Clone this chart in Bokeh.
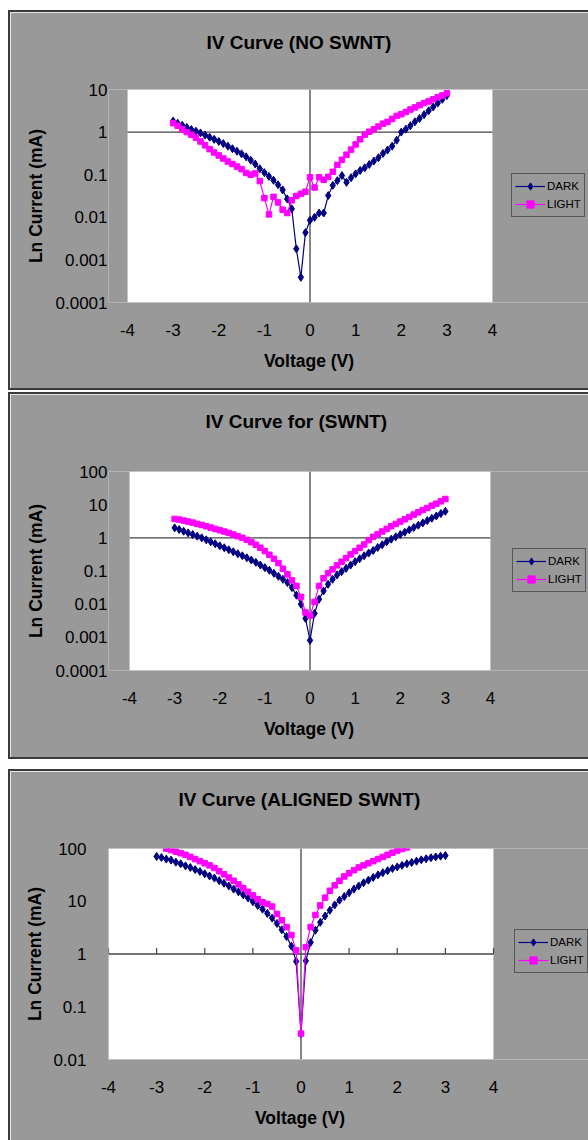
import math
from bokeh.plotting import figure
from bokeh.layouts import column
from bokeh.models import Span, FixedTicker, Title, Legend, LegendItem, BoxAnnotation
from bokeh.embed import file_html
from bokeh.resources import INLINE

FONT = "Liberation Sans"
PANEL_BG = "#999999"
EDGE = "#3a3a3a"
DARK_COLOR = "#000080"
LIGHT_COLOR = "#ff00ff"

# ---------------- data ----------------
voltage = [-3.0, -2.9, -2.8, -2.7, -2.6, -2.5, -2.4, -2.3, -2.2, -2.1,
           -2.0, -1.9, -1.8, -1.7, -1.6, -1.5, -1.4, -1.3, -1.2, -1.1,
           -1.0, -0.9, -0.8, -0.7, -0.6, -0.5, -0.4, -0.3, -0.2, -0.1,
           0.0, 0.1, 0.2, 0.3, 0.4, 0.5, 0.6, 0.7, 0.8, 0.9,
           1.0, 1.1, 1.2, 1.3, 1.4, 1.5, 1.6, 1.7, 1.8, 1.9,
           2.0, 2.1, 2.2, 2.3, 2.4, 2.5, 2.6, 2.7, 2.8, 2.9, 3.0]

voltage_aligned_light = [-2.8, -2.7, -2.6, -2.5, -2.4, -2.3, -2.2, -2.1,
                         -2.0, -1.9, -1.8, -1.7, -1.6, -1.5, -1.4, -1.3, -1.2, -1.1,
                         -1.0, -0.9, -0.8, -0.7, -0.6, -0.5, -0.4, -0.3, -0.2, -0.1,
                         0.0, 0.1, 0.2, 0.3, 0.4, 0.5, 0.6, 0.7, 0.8, 0.9,
                         1.0, 1.1, 1.2, 1.3, 1.4, 1.5, 1.6, 1.7, 1.8, 1.9,
                         2.0, 2.1, 2.2]

no_swnt_dark = [1.82, 1.62, 1.45, 1.29, 1.15, 1.05, 0.955, 0.851, 0.759, 0.676,
                0.603, 0.537, 0.468, 0.407, 0.355, 0.309, 0.263, 0.219, 0.178, 0.138,
                0.112, 0.0912, 0.0741, 0.058, 0.044, 0.027, 0.0158, 0.00182, 0.00039, 0.00437,
                0.0085, 0.0100, 0.0126, 0.0126, 0.0324, 0.0562, 0.0724, 0.0955, 0.0661, 0.0851,
                0.105, 0.126, 0.145, 0.174, 0.209, 0.251, 0.316, 0.380, 0.468, 0.646,
                1.00, 1.17, 1.41, 1.74, 2.09, 2.57, 3.16, 3.89, 4.79, 5.89, 7.24]

no_swnt_light = [1.62, 1.41, 1.17, 1.00, 0.871, 0.741, 0.603, 0.490, 0.398, 0.331,
                 0.282, 0.240, 0.204, 0.178, 0.155, 0.135, 0.110, 0.100, 0.107, 0.0708,
                 0.0282, 0.0117, 0.0302, 0.0224, 0.0151, 0.0126, 0.0251, 0.0316, 0.0355, 0.0398,
                 0.0871, 0.0501, 0.0871, 0.0759, 0.0891, 0.117, 0.170, 0.224, 0.295, 0.389,
                 0.513, 0.676, 0.871, 1.02, 1.17, 1.35, 1.58, 1.74, 2.04, 2.40,
                 2.63, 2.95, 3.39, 3.80, 4.27, 4.79, 5.25, 5.89, 6.61, 7.24, 8.13]

swnt_dark = [2.00, 1.78, 1.58, 1.41, 1.26, 1.12, 1.00, 0.871, 0.759, 0.661,
             0.575, 0.501, 0.437, 0.380, 0.331, 0.288, 0.251, 0.214, 0.182, 0.151,
             0.126, 0.105, 0.0851, 0.0692, 0.0562, 0.0447, 0.0316, 0.0186, 0.0100, 0.00372,
             0.00081, 0.00525, 0.0141, 0.0251, 0.0398, 0.0562, 0.0759, 0.0955, 0.120, 0.151,
             0.191, 0.234, 0.288, 0.347, 0.417, 0.513, 0.617, 0.759, 0.912, 1.07,
             1.26, 1.48, 1.74, 2.04, 2.40, 2.82, 3.31, 3.89, 4.57, 5.37, 6.31]

swnt_light = [3.72, 3.55, 3.31, 3.09, 2.88, 2.63, 2.45, 2.24, 2.04, 1.86,
              1.70, 1.55, 1.41, 1.26, 1.12, 1.00, 0.871, 0.741, 0.617, 0.501,
              0.398, 0.309, 0.234, 0.174, 0.117, 0.0794, 0.0525, 0.0355, 0.0166, 0.00562,
              0.00447, 0.0117, 0.0355, 0.0603, 0.0851, 0.112, 0.148, 0.191, 0.245, 0.316,
              0.398, 0.501, 0.631, 0.851, 1.07, 1.29, 1.55, 1.86, 2.24, 2.63,
              3.09, 3.63, 4.27, 5.01, 5.89, 6.92, 7.94, 9.33, 10.7, 12.6, 14.8]

aligned_dark = [70.8, 67.6, 63.1, 60.3, 55.0, 51.3, 46.8, 43.7, 39.8, 36.7,
                33.1, 30.2, 27.5, 24.5, 21.9, 19.5, 17.0, 15.1, 13.2, 11.5,
                9.77, 8.32, 7.08, 5.89, 4.79, 3.80, 2.88, 2.14, 1.41, 0.724,
                0.031, 0.741, 1.66, 2.82, 3.98, 5.25, 6.76, 8.51, 10.5, 12.3,
                14.5, 17.0, 19.5, 22.4, 25.1, 28.2, 31.6, 34.7, 38.0, 41.7,
                44.7, 47.9, 51.3, 54.3, 57.5, 61.0, 63.8, 66.8, 69.2, 71.6, 73.3]

aligned_light = [100, 93.3, 87.1, 81.3, 75.9, 69.2, 63.1, 57.5,
                 52.5, 47.9, 42.7, 37.2, 32.4, 28.2, 24.5, 20.9, 17.8, 15.1,
                 12.9, 11.0, 9.55, 8.91, 7.94, 5.75, 4.37, 3.24, 2.29, 1.17,
                 0.031, 1.35, 3.24, 5.50, 8.32, 11.7, 15.8, 20.0, 24.5, 29.5,
                 33.9, 38.9, 43.7, 47.9, 52.5, 57.5, 63.1, 69.2, 75.9, 83.2,
                 91.2, 97.7, 105]

x_ticks = [-4, -3, -2, -1, 0, 1, 2, 3, 4]
x_labels = ["-4", "-3", "-2", "-1", "0", "1", "2", "3", "4"]

y_ticks_1 = [0.0001, 0.001, 0.01, 0.1, 1, 10]
y_labels_1 = ["0.0001", "0.001", "0.01", "0.1", "1", "10"]
y_ticks_2 = [0.0001, 0.001, 0.01, 0.1, 1, 10, 100]
y_labels_2 = ["0.0001", "0.001", "0.01", "0.1", "1", "10", "100"]
y_ticks_3 = [0.01, 0.1, 1, 10, 100]
y_labels_3 = ["0.01", "0.1", "1", "10", "100"]

titles = ["IV Curve (NO SWNT)", "IV Curve for (SWNT)", "IV Curve (ALIGNED SWNT)"]
series_names = ["DARK", "LIGHT"]
x_title = "Voltage (V)"
y_title = "Ln Current (mA)"
axis_cross_x = 0
axis_cross_y = 1

# ---------------- layout constants (pixels) ----------------
FIG_W = 580          # figure width (canvas starts 2px right of the element edge)
CANVAS_X0 = 10       # page x of canvas left
FRAME_LEFT = 98      # common frame left border (canvas px) -> page x 108
FRAME_TOP = 77


def make_panel(title, title_left, title_gap, vd, dark, vl, light, yticks, ylabels,
               height, plot_left, plot_w, bottom, legend_left, legend_bottom,
               ylab_standoff, ylab_title_standoff, margin,
               border_bottom=True, axis_tick_marks=False):
    # frame spans from FRAME_LEFT to the right edge; the white plot area is a box
    x_lo, x_hi = x_ticks[0], x_ticks[-1]
    frame_left_page = CANVAS_X0 + FRAME_LEFT
    frame_right_page = CANVAS_X0 + FIG_W
    units_per_px = (x_hi - x_lo) / plot_w
    x_start = x_lo - (plot_left - frame_left_page) * units_per_px
    x_end = x_hi + (frame_right_page - (plot_left + plot_w)) * units_per_px

    p = figure(width=FIG_W, height=height, x_range=(x_start, x_end), title=None,
               y_range=(yticks[0], yticks[-1]), y_axis_type="log",
               output_backend="svg", toolbar_location=None,
               min_border_left=FRAME_LEFT, min_border_right=0,
               min_border_top=FRAME_TOP, min_border_bottom=bottom)
    p.margin = margin
    st = {"border-left": f"2px solid {EDGE}", "border-top": f"2px solid {EDGE}"}
    if border_bottom:
        st["border-bottom"] = f"2px solid {EDGE}"
    p.styles = st

    p.background_fill_color = PANEL_BG
    p.border_fill_color = PANEL_BG
    p.outline_line_color = None
    p.grid.visible = False

    p.add_layout(BoxAnnotation(left=x_lo, right=x_hi, bottom=yticks[0], top=yticks[-1],
                               fill_color="white", fill_alpha=1,
                               line_color="#b4b4b4", line_width=1, level="underlay"))

    spacer = Title(text=" ", text_font_size="1px", standoff=title_gap)
    p.add_layout(spacer, "above")
    main_title = Title(text=title, align="left", offset=title_left - frame_left_page,
                       standoff=10, text_font=FONT, text_font_size="19px",
                       text_font_style="bold", text_color="black")
    p.add_layout(main_title, "above")

    for ax in (p.xaxis[0], p.yaxis[0]):
        ax.axis_line_color = None
        ax.major_tick_line_color = None
        ax.minor_tick_line_color = None
        ax.major_label_text_font = FONT
        ax.major_label_text_font_size = "17px"
        ax.major_label_text_color = "black"
        ax.axis_label_text_font = FONT
        ax.axis_label_text_font_size = "17.5px"
        ax.axis_label_text_font_style = "bold"
        ax.axis_label_text_color = "black"

    p.xaxis.ticker = FixedTicker(ticks=x_ticks, minor_ticks=[])
    p.xaxis.major_label_overrides = dict(zip(x_ticks, x_labels))
    p.xaxis.major_label_standoff = 15

    # x-axis title centred under the white plot area
    x_title_obj = Title(text=x_title, align="left",
                        offset=(plot_left - frame_left_page) + plot_w / 2 - 46,
                        standoff=20, text_font=FONT, text_font_size="17.5px",
                        text_font_style="bold", text_color="black")
    p.add_layout(x_title_obj, "below")

    p.yaxis.ticker = FixedTicker(ticks=yticks, minor_ticks=[])
    p.yaxis.major_label_overrides = dict(zip(yticks, ylabels))
    p.yaxis.axis_label = y_title
    p.yaxis.major_label_standoff = ylab_standoff
    p.yaxis.axis_label_standoff = ylab_title_standoff

    p.add_layout(Span(location=axis_cross_x, dimension="height",
                      line_color="#444444", line_width=1.3, level="underlay"))
    p.segment(x0=[x_lo], y0=[axis_cross_y], x1=[x_hi], y1=[axis_cross_y],
              line_color="#444444", line_width=1.3)

    if axis_tick_marks:
        frame_h = height - FRAME_TOP - bottom
        px_per_dec = frame_h / math.log10(yticks[-1] / yticks[0])
        tick_top = axis_cross_y * 10 ** (6.0 / px_per_dec)
        xs = [t for t in x_ticks if t != axis_cross_x]
        p.segment(x0=xs, y0=[axis_cross_y] * len(xs), x1=xs, y1=[tick_top] * len(xs),
                  line_color="#444444", line_width=1.2)

    l1 = p.line(vd, dark, line_color=DARK_COLOR, line_width=1.2)
    s1 = p.scatter(vd, dark, marker="diamond", size=8, color=DARK_COLOR)
    l2 = p.line(vl, light, line_color=LIGHT_COLOR, line_width=1.2)
    s2 = p.scatter(vl, light, marker="square", size=5.5, color=LIGHT_COLOR)

    lg = Legend(items=[LegendItem(label=series_names[0], renderers=[l1, s1]),
                       LegendItem(label=series_names[1], renderers=[l2, s2])],
                location=(legend_left - frame_left_page, legend_bottom),
                margin=0, padding=3, spacing=0,
                glyph_width=30, glyph_height=18, label_height=18, label_standoff=2,
                label_text_font=FONT, label_text_font_size="11.5px",
                label_text_color="black", border_line_color="#111111",
                border_line_width=1, background_fill_color=PANEL_BG,
                background_fill_alpha=1)
    p.add_layout(lg, "center")
    return p


p1 = make_panel(titles[0], 206, 29, voltage, no_swnt_dark, voltage, no_swnt_light,
                y_ticks_1, y_labels_1, 380, 127, 365, 90, 511, 85, -5, 7, (10, 0, 0, 8))
p2 = make_panel(titles[1], 205, 32, voltage, swnt_dark, voltage, swnt_light,
                y_ticks_2, y_labels_2, 367, 129, 361, 91, 512, 78, -5, 7, (2, 0, 0, 8))
p3 = make_panel(titles[2], 178, 31, voltage, aligned_dark, voltage_aligned_light, aligned_light,
                y_ticks_3, y_labels_3, 371, 108, 385, 83, 514, 86, 16, 5, (10, 0, 0, 8),
                border_bottom=False, axis_tick_marks=True)

layout = column(p1, p2, p3, spacing=0)
open("out.html", "w").write(file_html(layout, INLINE))
